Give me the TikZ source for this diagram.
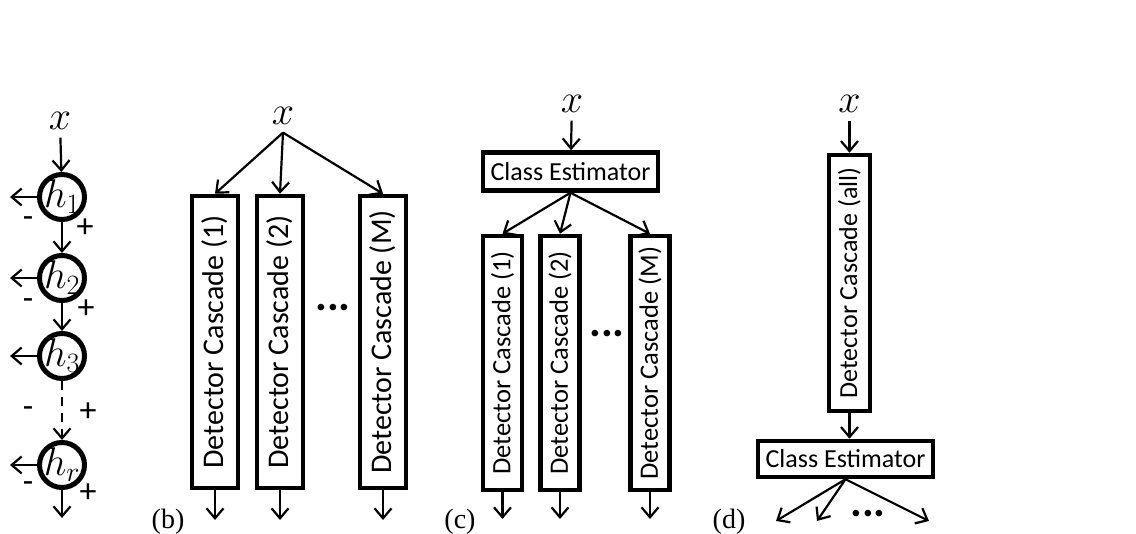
\RequirePackage{fix-cm}
\documentclass[tikz,border=0pt]{standalone}
\usepackage[no-math]{fontspec}
\newfontfamily\calib{Carlito}
\newfontfamily\tms{Liberation Serif}
\usepackage{graphicx}
\usetikzlibrary{arrows.meta}
\begin{document}
\begin{tikzpicture}[x=1pt,y=-1pt,
  arr/.style={line width=2.2pt,-{Straight Barb[length=10pt,width=17pt]}},
  hc/.style={circle,draw,line width=5pt,minimum size=45pt,inner sep=0pt},
  hl/.style={font=\fontsize{40}{44}\selectfont,inner sep=0pt},
  casc/.style={draw,line width=4.5pt,inner sep=0pt},
  mathlbl/.style={inner sep=0pt,outer sep=8pt,font=\fontsize{40}{44}\selectfont},
  sign/.style={inner sep=0pt,font=\calib\fontsize{34}{36}\selectfont},
  dotsn/.style={inner sep=0pt,font=\calib\bfseries\fontsize{44}{48}\selectfont},
  tag/.style={inner sep=0pt,font=\tms\fontsize{28}{32}\selectfont},
]
\useasboundingbox (0,0) rectangle (1136,534);

% ---------- (a) ----------
\node[mathlbl] (xa) at (60,121) {$x$};
\node[hc,label={[hl]center:$h_1$}] (h1) at (62,197) {};
\node[hc,label={[hl]center:$h_2$}] (h2) at (62,278) {};
\node[hc,label={[hl]center:$h_3$}] (h3) at (62,356) {};
\node[hc,label={[hl]center:$h_r$}] (hr) at (62,465) {};
\coordinate (l1) at (10,197);
\coordinate (l2) at (10,278);
\coordinate (l3) at (10,356);
\coordinate (l4) at (10,465);
\coordinate (ae) at (62,518);
\draw[arr] (xa) -- (h1);
\draw[arr] (h1) -- (h2);
\draw[arr] (h2) -- (h3);
\draw[arr,dash pattern=on 9pt off 7pt] (h3) -- (hr);
\draw[arr] (hr) -- (ae);
\draw[arr] (h1.west) -- (l1);
\draw[arr] (h2.west) -- (l2);
\draw[arr] (h3.west) -- (l3);
\draw[arr] (hr.west) -- (l4);
\node[sign] (m1) at (28,222) {-};
\node[sign] (p1) at (85,228) {+};
\node[sign] (m2) at (28,304) {-};
\node[sign] (p2) at (86,309) {+};
\node[sign] (m3) at (28,412) {-};
\node[sign] (p3) at (88,412) {+};
\node[sign] (m4) at (28,487) {-};
\node[sign] (p4) at (88,493) {+};

% ---------- (b) ----------
\node[mathlbl] (xb) at (283,116) {$x$};
\begin{scope}[every node/.append style={font=\calib\fontsize{30}{32}\selectfont}]
\node[casc,minimum width=46pt,minimum height=292pt] (b1) at (215,342) {\rotatebox{90}{Detector Cascade (1)}};
\node[casc,minimum width=46pt,minimum height=292pt] (b2) at (280,342) {\rotatebox{90}{Detector Cascade (2)}};
\node[casc,minimum width=46pt,minimum height=292pt] (b3) at (383,342) {\rotatebox{90}{Detector Cascade (M)}};
\end{scope}
\draw[arr] (xb.south) -- (b1.north);
\draw[arr] (xb.south) -- (b2.north);
\draw[arr] (xb.south) -- (b3.north);
\coordinate (bo1) at (215,520);
\coordinate (bo2) at (280,520);
\coordinate (bo3) at (383,520);
\draw[arr] (b1) -- (bo1);
\draw[arr] (b2) -- (bo2);
\draw[arr] (b3) -- (bo3);
\node[dotsn] (db) at (333,308) {...};
\node[tag] (tb) at (168,522) {(b)};

% ---------- (c) ----------
\node[mathlbl] (xc) at (572,104) {$x$};
\node[casc,minimum width=175pt,minimum height=38pt,font=\calib\fontsize{26}{28}\selectfont] (ce1) at (570.5,171.5) {Class Estimator};
\draw[arr] (xc) -- (ce1);
\begin{scope}[every node/.append style={font=\calib\fontsize{26.5}{28}\selectfont}]
\node[casc,minimum width=39pt,minimum height=254pt] (c1) at (502.5,363) {\rotatebox{90}{Detector Cascade (1)}};
\node[casc,minimum width=39pt,minimum height=254pt] (c2) at (560,363) {\rotatebox{90}{Detector Cascade (2)}};
\node[casc,minimum width=39pt,minimum height=254pt] (c3) at (650,363) {\rotatebox{90}{Detector Cascade (M)}};
\end{scope}
\draw[arr] (ce1.south) -- (c1.north);
\draw[arr] (ce1.south) -- (c2.north);
\draw[arr] (ce1.south) -- (c3.north);
\coordinate (co1) at (502.5,519);
\coordinate (co2) at (560,519);
\coordinate (co3) at (650,519);
\draw[arr] (c1) -- (co1);
\draw[arr] (c2) -- (co2);
\draw[arr] (c3) -- (co3);
\node[dotsn] (dc) at (607,334) {...};
\node[tag] (tc) at (460,522) {(c)};

% ---------- (d) ----------
\node[mathlbl] (xd) at (849.5,104) {$x$};
\node[casc,minimum width=41pt,minimum height=256pt,font=\calib\fontsize{26}{28}\selectfont] (dc1) at (849.5,283) {\rotatebox{90}{Detector Cascade (all)}};
\draw[arr] (xd) -- (dc1);
\node[casc,minimum width=175pt,minimum height=36pt,font=\calib\fontsize{26}{28}\selectfont] (ce2) at (845.5,459) {Class Estimator};
\draw[arr] (dc1.south) -- (dc1.south |- ce2.north);
\coordinate (do1) at (776,521);
\coordinate (do2) at (817,521);
\coordinate (do3) at (929,521);
\draw[arr] (ce2.south) -- (do1);
\draw[arr] (ce2.south) -- (do2);
\draw[arr] (ce2.south) -- (do3);
\node[dotsn] (dd) at (868,514) {...};
\node[tag] (td) at (729,522) {(d)};
\end{tikzpicture}
\end{document}
